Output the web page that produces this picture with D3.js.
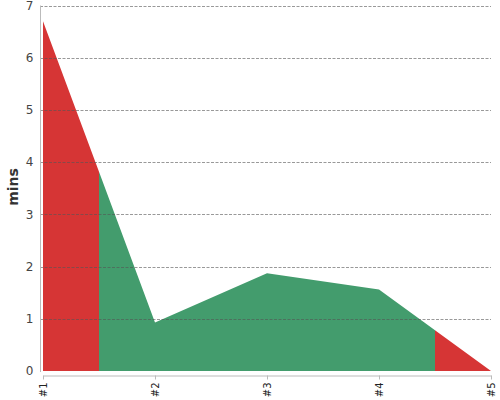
<!DOCTYPE html>
<html><head><meta charset="utf-8">
<script src="https://cdn.jsdelivr.net/npm/d3@7"></script>
<style>html,body{margin:0;padding:0;background:#fff;}svg{display:block;font-family:"DejaVu Sans",sans-serif;}</style>
</head><body>
<svg id="c" width="500" height="400"></svg>
<script>
const categories = ["#1", "#2", "#3", "#4", "#5"];
const values = [6.7, 0.93, 1.87, 1.56, 0];
const yTicks = [0, 1, 2, 3, 4, 5, 6, 7];
const bandFrom = [0, 0.5, 3.5];
const bandTo = [0.5, 3.5, 4];
const bandColors = ["#d63535", "#439c6d", "#d63535"];

const svg = d3.select("#c");
const x = d3.scaleLinear().domain([0, categories.length - 1]).range([43, 491]);
const y = d3.scaleLinear().domain([0, 7]).range([371, 5.5]);

const defs = svg.append("defs");
bandFrom.forEach((b, i) => {
  defs.append("clipPath").attr("id", "band" + i)
    .append("rect").attr("x", x(b)).attr("y", 0)
    .attr("width", x(bandTo[i]) - x(b)).attr("height", 400);
});

const area = d3.area().x((d, i) => x(i)).y0(y(0)).y1(d => y(d));
bandFrom.forEach((b, i) => {
  svg.append("path").datum(values).attr("d", area)
    .attr("fill", bandColors[i]).attr("clip-path", "url(#band" + i + ")");
});

// gridlines
svg.append("g").selectAll("line").data(yTicks.filter(t => t > 0)).join("line")
  .attr("x1", 40).attr("x2", 491).attr("y1", d => Math.round(y(d)) + 0.5).attr("y2", d => Math.round(y(d)) + 0.5)
  .attr("stroke", "#555").attr("stroke-opacity", 0.6).attr("stroke-dasharray", "3,1.5").attr("stroke-width", 1);

// y axis
const yAxis = d3.axisLeft(y).tickValues(yTicks).tickSize(0).tickPadding(7).tickFormat(d3.format("d"));
const gy = svg.append("g").attr("transform", "translate(40.5,0)").call(yAxis);
gy.select(".domain").attr("stroke", "#bbb").attr("d", `M0,${y(7)}V${y(0) + 1}`);
gy.selectAll("text").attr("fill", "#444").attr("font-size", 12).attr("font-family", "DejaVu Sans");

// x axis
const xAxis = d3.axisBottom(x).tickValues(d3.range(categories.length)).tickSize(4).tickSizeOuter(0)
  .tickFormat(i => categories[i]);
const gx = svg.append("g").attr("transform", "translate(0,375.5)").call(xAxis);
gx.select(".domain").attr("stroke", "#bbb");
gx.selectAll(".tick line").attr("stroke", "#bbb");
gx.selectAll("text").attr("fill", "#222").attr("font-size", 10).attr("font-family", "DejaVu Sans")
  .attr("transform", "rotate(-90)").attr("text-anchor", "end").attr("x", -7).attr("y", 0).attr("dy", "0.35em");

// y label
svg.append("text").attr("transform", `translate(18,187) rotate(-90)`)
  .attr("text-anchor", "middle").attr("font-size", 14).attr("font-weight", "bold").attr("fill", "#333")
  .attr("font-family", "DejaVu Sans").text("mins");
</script>
</body></html>
